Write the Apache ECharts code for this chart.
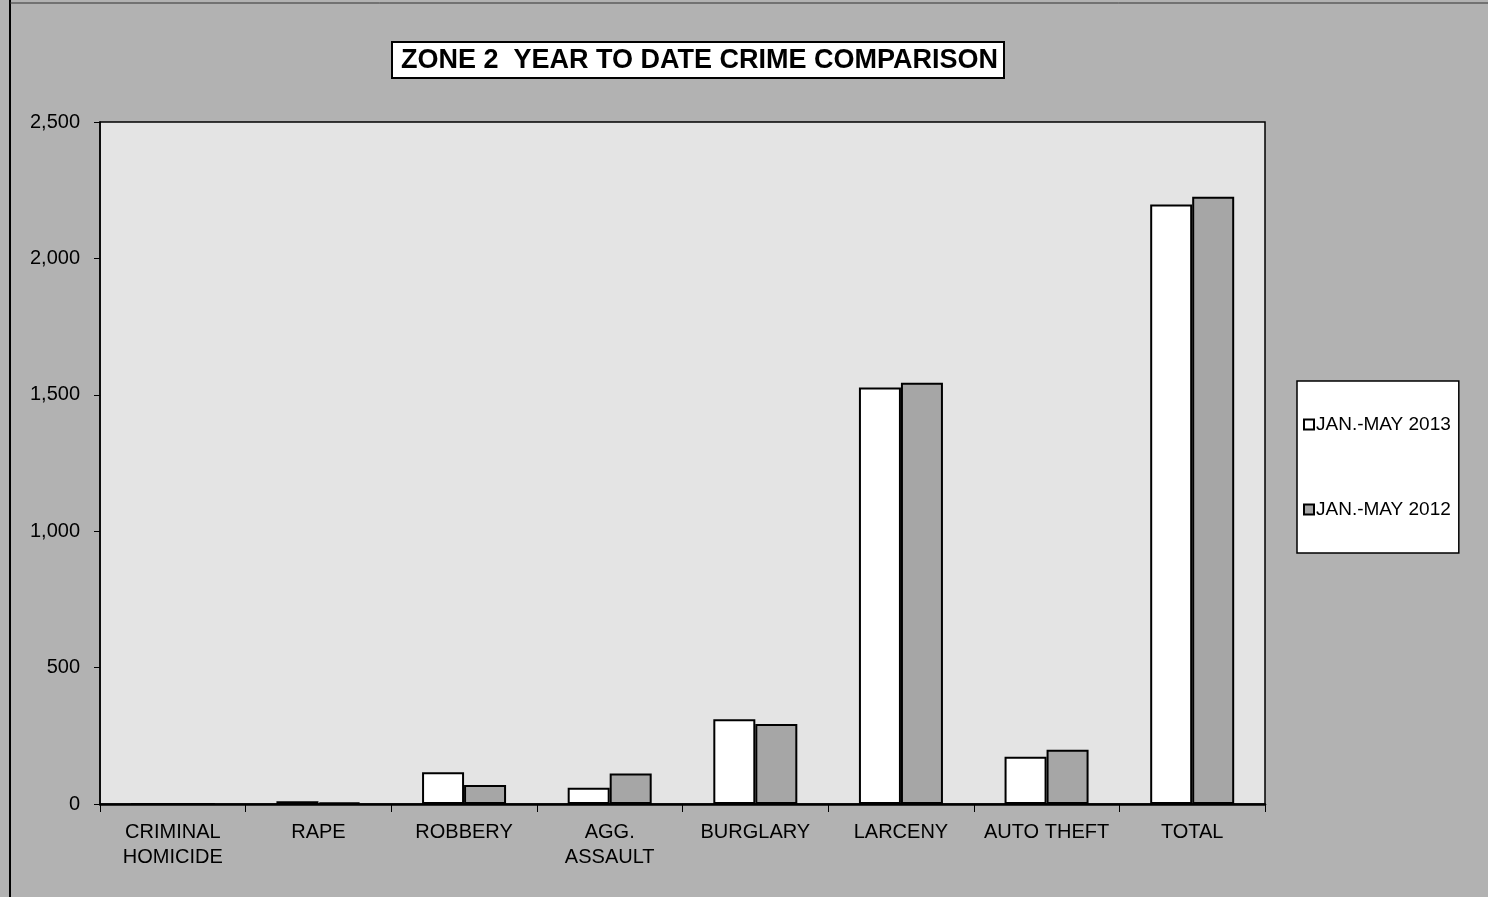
<!DOCTYPE html>
<html>
<head>
<meta charset="utf-8">
<script src="https://cdn.jsdelivr.net/npm/echarts@6/dist/echarts.min.js"></script>
<style>
html,body{margin:0;padding:0;background:#b2b2b2;}
#c{width:1488px;height:897px;}
</style>
</head>
<body>
<div id="c"></div>
<script>
var categories = ['CRIMINAL\nHOMICIDE', 'RAPE', 'ROBBERY', 'AGG.\nASSAULT', 'BURGLARY', 'LARCENY', 'AUTO THEFT', 'TOTAL'];
var series2013 = [0, 10, 116, 60, 311, 1527, 173, 2198];
var series2012 = [0, 6, 70, 112, 293, 1544, 199, 2226];
var seriesNames = ['JAN.-MAY 2013', 'JAN.-MAY 2012'];
var yTicks = [0, 500, 1000, 1500, 2000, 2500];

var chart = echarts.init(document.getElementById('c'));
var font = 'Arial, "Liberation Sans", sans-serif';
chart.setOption({
  backgroundColor: '#b2b2b2',
  animation: false,
  title: {
    text: 'ZONE 2  YEAR TO DATE CRIME COMPARISON',
    left: 392, top: 42,
    padding: [5, 6, 4, 9],
    backgroundColor: '#ffffff',
    borderColor: '#000', borderWidth: 2,
    textStyle: { fontFamily: font, fontSize: 27, fontWeight: 'bold', color: '#000' }
  },
  legend: {
    orient: 'vertical',
    left: 1297, top: 381,
    padding: [34, 8, 34, 6],
    itemGap: 66,
    itemWidth: 10, itemHeight: 10,
    backgroundColor: '#ffffff',
    borderColor: '#000', borderWidth: 1.5,
    icon: 'rect',
    textStyle: { fontFamily: font, fontSize: 19, color: '#000', padding: [0, 0, 0, -3] },
    data: seriesNames
  },
  graphic: [
    { type: 'line', shape: { x1: 10, y1: 0, x2: 10, y2: 897 }, style: { stroke: '#000', lineWidth: 2 } },
    { type: 'line', shape: { x1: 10, y1: 3, x2: 1488, y2: 3 }, style: { stroke: '#333', lineWidth: 1 } }
  ],
  grid: {
    left: 100, right: 223, top: 122, bottom: 93,
    show: true, backgroundColor: '#e4e4e4', borderColor: '#000', borderWidth: 1.5
  },
  xAxis: {
    type: 'category',
    data: categories,
    axisLine: { lineStyle: { color: '#000', width: 2.5 } },
    axisTick: { show: true, length: 8, lineStyle: { color: '#000' } },
    axisLabel: { interval: 0, fontFamily: font, fontSize: 20, color: '#000', margin: 16, lineHeight: 25 }
  },
  yAxis: {
    type: 'value', min: 0, max: 2500, interval: 500,
    splitLine: { show: false },
    axisLine: { show: true, lineStyle: { color: '#000', width: 1.5 } },
    axisTick: { show: true, length: 6, lineStyle: { color: '#000' } },
    axisLabel: {
      fontFamily: font, fontSize: 20, color: '#000', margin: 20,
      formatter: function (v) { return yTicks.indexOf(v) >= 0 ? v.toLocaleString('en-US') : ''; }
    }
  },
  series: [
    {
      name: seriesNames[0], type: 'bar', data: series2013,
      barWidth: 42, barGap: '0%',
      itemStyle: { color: '#ffffff', borderColor: '#000', borderWidth: 2 }
    },
    {
      name: seriesNames[1], type: 'bar', data: series2012,
      barWidth: 42, barGap: '0%',
      itemStyle: { color: '#a6a6a6', borderColor: '#000', borderWidth: 2 }
    }
  ]
});
</script>
</body>
</html>
